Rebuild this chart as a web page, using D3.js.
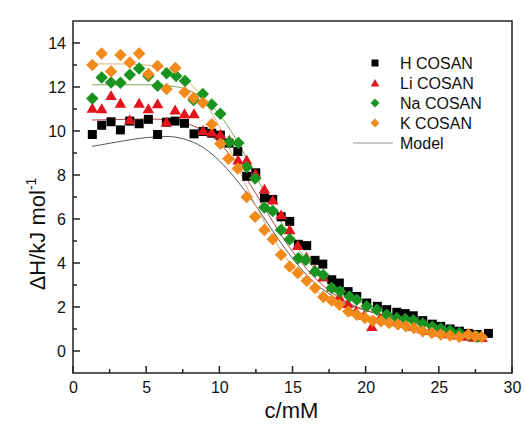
<!DOCTYPE html>
<html>
<head>
<meta charset="utf-8">
<script src="https://cdn.jsdelivr.net/npm/d3@7"></script>
<style>
  html, body { margin: 0; padding: 0; background: #fff; }
  svg { display: block; font-family: "Liberation Sans", Arial, sans-serif; }
</style>
</head>
<body>
<svg id="chart" width="525" height="426"></svg>
<script>
// Measured titration points: concentration (mM) and enthalpy (kJ/mol)
const hX = [1.32,1.96,2.60,3.24,3.88,4.52,5.15,5.78,6.38,6.98,7.62,8.27,8.89,9.48,10.07,10.66,11.26,11.87,12.49,13.08,13.65,14.23,14.81,15.40,15.97,16.54,17.07,17.68,18.20,18.80,19.39,20.07,20.80,21.44,22.13,22.70,23.25,23.90,24.56,25.13,25.77,26.40,27.02,27.63,28.39];
const hY = [9.84,10.26,10.42,10.05,10.45,10.33,10.53,9.84,10.40,10.45,10.35,9.87,9.98,9.90,9.81,9.45,9.07,7.94,8.10,6.96,6.89,6.10,5.89,4.85,4.79,4.12,3.95,3.24,3.09,2.70,2.48,2.18,2.03,1.88,1.76,1.70,1.60,1.38,1.22,1.12,1.00,0.90,0.80,0.75,0.80];

const liX = [1.32,1.96,2.60,3.24,3.88,4.52,5.15,5.78,6.38,6.98,7.62,8.27,8.89,9.48,10.07,10.68,11.28,11.87,12.47,13.08,13.65,14.22,14.81,15.36,15.95,16.52,17.08,17.66,18.20,18.78,19.34,19.90,20.42,20.98,21.55,22.12,22.70,23.28,23.86,24.45,25.03,25.62,26.20,26.78,27.36,27.95];
const liY = [11.03,11.00,11.60,11.25,10.50,11.25,11.00,11.23,10.40,10.95,10.78,10.78,10.02,9.95,9.84,9.57,8.67,8.67,8.05,7.35,6.85,6.18,5.50,4.79,4.25,3.70,3.35,2.90,2.45,2.15,1.80,1.62,1.10,1.48,1.40,1.32,1.25,1.12,1.00,0.92,0.85,0.78,0.72,0.66,0.62,0.60];

const naX = [1.32,1.96,2.60,3.24,3.88,4.52,5.15,5.78,6.40,7.05,7.66,8.24,8.87,9.48,10.07,10.68,11.30,11.87,12.44,13.08,13.65,14.22,14.81,15.40,15.90,16.54,17.10,17.68,18.25,18.89,19.39,20.07,20.76,21.44,22.13,22.70,23.25,23.90,24.56,25.13,25.77,26.40,27.02,27.63];
const naY = [11.48,12.43,12.21,12.19,12.56,12.84,12.50,12.06,12.63,12.50,12.27,11.41,11.68,11.20,10.78,9.49,9.45,8.36,7.84,6.52,6.36,5.50,5.08,4.22,4.14,3.61,3.46,2.86,2.71,2.48,2.33,2.03,1.88,1.65,1.50,1.45,1.40,1.25,1.10,1.02,0.92,0.82,0.72,0.65];

const kX = [1.32,1.96,2.60,3.24,3.88,4.52,5.15,5.78,6.40,6.99,7.62,8.24,8.87,9.48,10.07,10.62,11.26,11.87,12.44,13.08,13.65,14.22,14.81,15.36,15.97,16.54,17.10,17.68,18.20,18.82,19.39,19.95,20.50,21.05,21.60,22.20,22.75,23.30,23.90,24.52,25.13,25.77,26.40,27.02,27.48,27.93];
const kY = [13.00,13.52,12.71,13.46,13.11,13.52,12.59,12.96,11.91,12.86,11.76,11.50,11.28,10.31,9.42,8.74,8.29,7.00,6.10,5.50,5.08,4.37,3.84,3.54,3.19,2.86,2.45,2.30,2.10,1.80,1.65,1.50,1.38,1.35,1.27,1.20,1.12,1.05,0.90,0.82,0.75,0.70,0.64,0.75,0.67,0.64];

// Fitted model curves
const modelX = [1.3,3,5,6.5,7.5,8.5,9.5,10.5,11.5,12.5,13.5,14.5,15.5,16.5,17.5,18.5,19.5,20.5,22,24,26,28];
const modelH  = [9.30,9.50,9.70,9.75,9.65,9.40,8.95,8.30,7.50,6.60,5.60,4.65,3.80,3.10,2.60,2.20,1.95,1.75,1.50,1.20,0.90,0.60];
const modelLi = [10.50,10.52,10.55,10.50,10.40,10.15,9.75,9.10,8.20,7.15,6.05,5.00,4.10,3.35,2.75,2.30,1.98,1.75,1.50,1.20,0.92,0.68];
const modelNa = [12.10,12.10,12.10,12.05,11.95,11.65,11.15,10.30,9.20,7.95,6.70,5.55,4.55,3.75,3.10,2.60,2.25,2.00,1.65,1.30,1.00,0.75];
const modelK  = [13.05,13.05,13.00,12.80,12.45,11.80,10.80,9.50,8.00,6.60,5.35,4.30,3.45,2.80,2.35,2.00,1.75,1.55,1.30,1.00,0.75,0.50];

const seriesNames = ["H COSAN", "Li COSAN", "Na COSAN", "K COSAN"];
const xTicks = [0, 5, 10, 15, 20, 25, 30];
const yTicks = [0, 2, 4, 6, 8, 10, 12, 14];

const series = [
  { name: seriesNames[0], xs: hX,  ys: hY,  model: modelH,  color: "#000000", modelColor: "#555555", shape: "square" },
  { name: seriesNames[1], xs: liX, ys: liY, model: modelLi, color: "#e3141b", modelColor: "#a94a40", shape: "triangle" },
  { name: seriesNames[2], xs: naX, ys: naY, model: modelNa, color: "#1a9420", modelColor: "#78a860", shape: "diamond" },
  { name: seriesNames[3], xs: kX,  ys: kY,  model: modelK,  color: "#f28a1c", modelColor: "#d8b07c", shape: "diamond" }
];

const svg = d3.select("#chart");
const margin = { left: 73, right: 13, top: 21, bottom: 53 };
const W = 525, H = 426;
const x = d3.scaleLinear().domain([0, 30]).range([margin.left, W - margin.right]);
const y = d3.scaleLinear().domain([-1, 15]).range([H - margin.bottom, margin.top]);

function symbolPath(shape, s) {
  if (shape === "square") return d3.symbol(d3.symbolSquare, s * s)();
  if (shape === "triangle") return d3.symbol(d3.symbolTriangle, Math.sqrt(3) / 4 * s * s)();
  // diamond: a square turned 45 degrees, s is the tip-to-tip width
  const h = s / 2;
  return `M0,${-h}L${h},0L0,${h}L${-h},0Z`;
}
const markerSize = { square: 9, triangle: 11.5, diamond: 12.5 };
const legendSize = { square: 7, triangle: 8.5, diamond: 9 };

// Model lines
const line = d3.line().x(d => x(d[0])).y(d => y(d[1])).curve(d3.curveMonotoneX);
const plot = svg.append("g");
series.forEach(s => {
  plot.append("path")
    .attr("d", line(modelX.map((v, i) => [v, s.model[i]])))
    .attr("fill", "none")
    .attr("stroke", s.modelColor)
    .attr("stroke-width", 1);
});

// Markers
series.forEach(s => {
  plot.append("g").selectAll("path")
    .data(s.xs.map((v, i) => [v, s.ys[i]]))
    .join("path")
    .attr("d", symbolPath(s.shape, markerSize[s.shape]))
    .attr("transform", d => `translate(${x(d[0])},${y(d[1]) + (s.shape === "triangle" ? 1 : 0)})`)
    .attr("fill", s.color);
});

// Frame
svg.append("rect")
  .attr("x", x(0)).attr("y", y(15))
  .attr("width", x(30) - x(0)).attr("height", y(-1) - y(15))
  .attr("fill", "none").attr("stroke", "#222").attr("stroke-width", 1.5);

// Axes with inward ticks
const xAxis = d3.axisBottom(x).tickValues(xTicks).tickSize(0).tickPadding(9).tickFormat(d3.format("d"));
const gx = svg.append("g").attr("transform", `translate(0,${y(-1)})`).call(xAxis);
gx.select(".domain").remove();
gx.selectAll("text").attr("font-size", 16).attr("fill", "#111").attr("font-family", "Liberation Sans, Arial, sans-serif");

const yAxis = d3.axisLeft(y).tickValues(yTicks).tickSize(0).tickPadding(7).tickFormat(d3.format("d"));
const gy = svg.append("g").attr("transform", `translate(${x(0)},0)`).call(yAxis);
gy.select(".domain").remove();
gy.selectAll("text").attr("font-size", 16).attr("fill", "#111").attr("font-family", "Liberation Sans, Arial, sans-serif");

const xMinor = d3.range(0, 31, 2.5);
svg.append("g").selectAll("line").data(xMinor).join("line")
  .attr("x1", d => x(d)).attr("x2", d => x(d))
  .attr("y1", y(-1)).attr("y2", d => y(-1) - (d % 5 === 0 ? 7 : 4))
  .attr("stroke", "#222").attr("stroke-width", 1.5);

const yMinor = d3.range(0, 15, 1);
svg.append("g").selectAll("line").data(yMinor).join("line")
  .attr("y1", d => y(d)).attr("y2", d => y(d))
  .attr("x1", x(0)).attr("x2", d => x(0) + (d % 2 === 0 ? 7 : 4))
  .attr("stroke", "#222").attr("stroke-width", 1.5);

// Axis titles
svg.append("text")
  .attr("x", (x(0) + x(30)) / 2 - 1).attr("y", 418)
  .attr("text-anchor", "middle").attr("font-size", 22).attr("fill", "#111")
  .text("c/mM");

const yt = svg.append("text")
  .attr("transform", "translate(45,234) rotate(-90)")
  .attr("text-anchor", "middle").attr("font-size", 22).attr("fill", "#111");
yt.append("tspan").text("\u0394H/kJ mol");
yt.append("tspan").attr("dy", -9).attr("font-size", 14).text("-1");

// Legend
const legend = svg.append("g");
const ly0 = 63, ldy = 20, lx = 375;
series.forEach((s, i) => {
  legend.append("path")
    .attr("d", symbolPath(s.shape, legendSize[s.shape]))
    .attr("transform", `translate(${lx},${ly0 + i * ldy + (s.shape === "triangle" ? 1 : 0)})`)
    .attr("fill", s.color);
  legend.append("text")
    .attr("x", 400).attr("y", ly0 + i * ldy + 5.5)
    .attr("font-size", 16).attr("fill", "#111")
    .text(s.name);
});
legend.append("line")
  .attr("x1", 353).attr("x2", 393)
  .attr("y1", ly0 + 4 * ldy).attr("y2", ly0 + 4 * ldy)
  .attr("stroke", "#999").attr("stroke-width", 1);
legend.append("text")
  .attr("x", 400).attr("y", ly0 + 4 * ldy + 5.5)
  .attr("font-size", 16).attr("fill", "#111")
  .text("Model");
</script>
</body>
</html>
